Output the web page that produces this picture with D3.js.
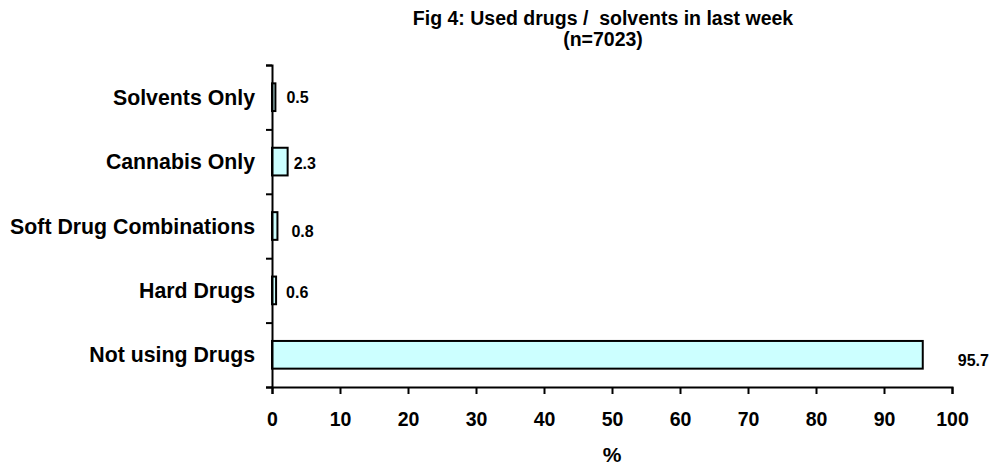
<!DOCTYPE html>
<html>
<head>
<meta charset="utf-8">
<script src="https://cdn.jsdelivr.net/npm/d3@7"></script>
<style>
    body { margin: 0; background: #fff; }
    text { font-family: "Liberation Sans", Arial, sans-serif; font-weight: bold; fill: #000; }
</style>
</head>
<body>
<div id="grafica"></div>
<script>
// Datos (de arriba hacia abajo)
const categorias = ["Solvents Only", "Cannabis Only", "Soft Drug Combinations", "Hard Drugs", "Not using Drugs"];
const porcentajes = [0.5, 2.3, 0.8, 0.6, 95.7];
const ticksX = [0, 10, 20, 30, 40, 50, 60, 70, 80, 90, 100];
const titulo = ["Fig 4: Used drugs /  solvents in last week", "(n=7023)"];
const tituloEjeX = "%";

// Ajustes de las etiquetas de valor (desplazamiento respecto al final de la barra)
const ajusteEtiqueta = [
    { dx: 11, dy: 0 },
    { dx: 6, dy: 1.5 },
    { dx: 14, dy: 5 },
    { dx: 10, dy: 1.5 },
    { dx: 35, dy: 5 }
];

const ancho = 992, alto = 466;
const margin = { top: 65, right: 40, bottom: 79, left: 272 };

const svg = d3.select("#grafica")
    .append("svg")
    .attr("width", ancho)
    .attr("height", alto);

// Escalas
const x = d3.scaleLinear()
    .domain([0, 100])
    .range([margin.left, ancho - margin.right]);

const y = d3.scaleBand()
    .domain(categorias)
    .range([margin.top, alto - margin.bottom])
    .paddingInner(0.57)
    .paddingOuter(0.285);

// Escala auxiliar para las marcas del eje Y (entre categorías)
const yMarcas = d3.scaleLinear()
    .domain([0, categorias.length])
    .range([alto - margin.bottom, margin.top]);

// Título (dos líneas, cada una como texto propio)
svg.append("g")
    .selectAll("text")
    .data(titulo)
    .join("text")
    .attr("x", 603)
    .attr("y", (d, i) => 25 + i * 21)
    .attr("text-anchor", "middle")
    .style("font-size", "19.5px")
    .style("white-space", "pre")
    .text(d => d);

// Barras
svg.append("g")
    .selectAll("rect")
    .data(porcentajes)
    .join("rect")
    .attr("x", x(0))
    .attr("y", (d, i) => y(categorias[i]))
    .attr("width", d => x(d) - x(0))
    .attr("height", y.bandwidth())
    .attr("fill", "#ccffff")
    .attr("stroke", "#000")
    .attr("stroke-width", 2);

// Eje Y
const ejeY = svg.append("g")
    .attr("transform", `translate(${x(0)},0)`)
    .call(d3.axisLeft(yMarcas).ticks(categorias.length).tickSize(6).tickFormat(""));
ejeY.select(".domain").attr("stroke-width", 2);
ejeY.selectAll(".tick line").attr("stroke-width", 2);

// Etiquetas de categorías
svg.append("g")
    .selectAll("text")
    .data(categorias)
    .join("text")
    .attr("x", 255)
    .attr("y", d => y(d) + y.bandwidth() / 2)
    .attr("dy", "0.36em")
    .attr("text-anchor", "end")
    .style("font-size", "21.3px")
    .text(d => d);

// Eje X
const ejeX = svg.append("g")
    .attr("transform", `translate(0,${alto - margin.bottom})`)
    .call(d3.axisBottom(x).tickValues(ticksX).tickSize(7).tickPadding(18));
ejeX.select(".domain").attr("stroke-width", 2);
ejeX.selectAll(".tick line").attr("stroke-width", 2);
ejeX.selectAll(".tick text")
    .style("font-size", "19.5px")
    .style("font-family", "'Liberation Sans', Arial, sans-serif")
    .style("font-weight", "bold");

svg.append("text")
    .attr("x", (x(0) + x(100)) / 2)
    .attr("y", 462)
    .attr("text-anchor", "middle")
    .style("font-size", "21px")
    .text(tituloEjeX);

// Etiquetas de valor
svg.append("g")
    .selectAll("text")
    .data(porcentajes)
    .join("text")
    .attr("x", (d, i) => x(d) + ajusteEtiqueta[i].dx)
    .attr("y", (d, i) => y(categorias[i]) + y.bandwidth() / 2 + ajusteEtiqueta[i].dy)
    .attr("dy", "0.36em")
    .style("font-size", "16px")
    .text(d => d.toFixed(1));
</script>
</body>
</html>
